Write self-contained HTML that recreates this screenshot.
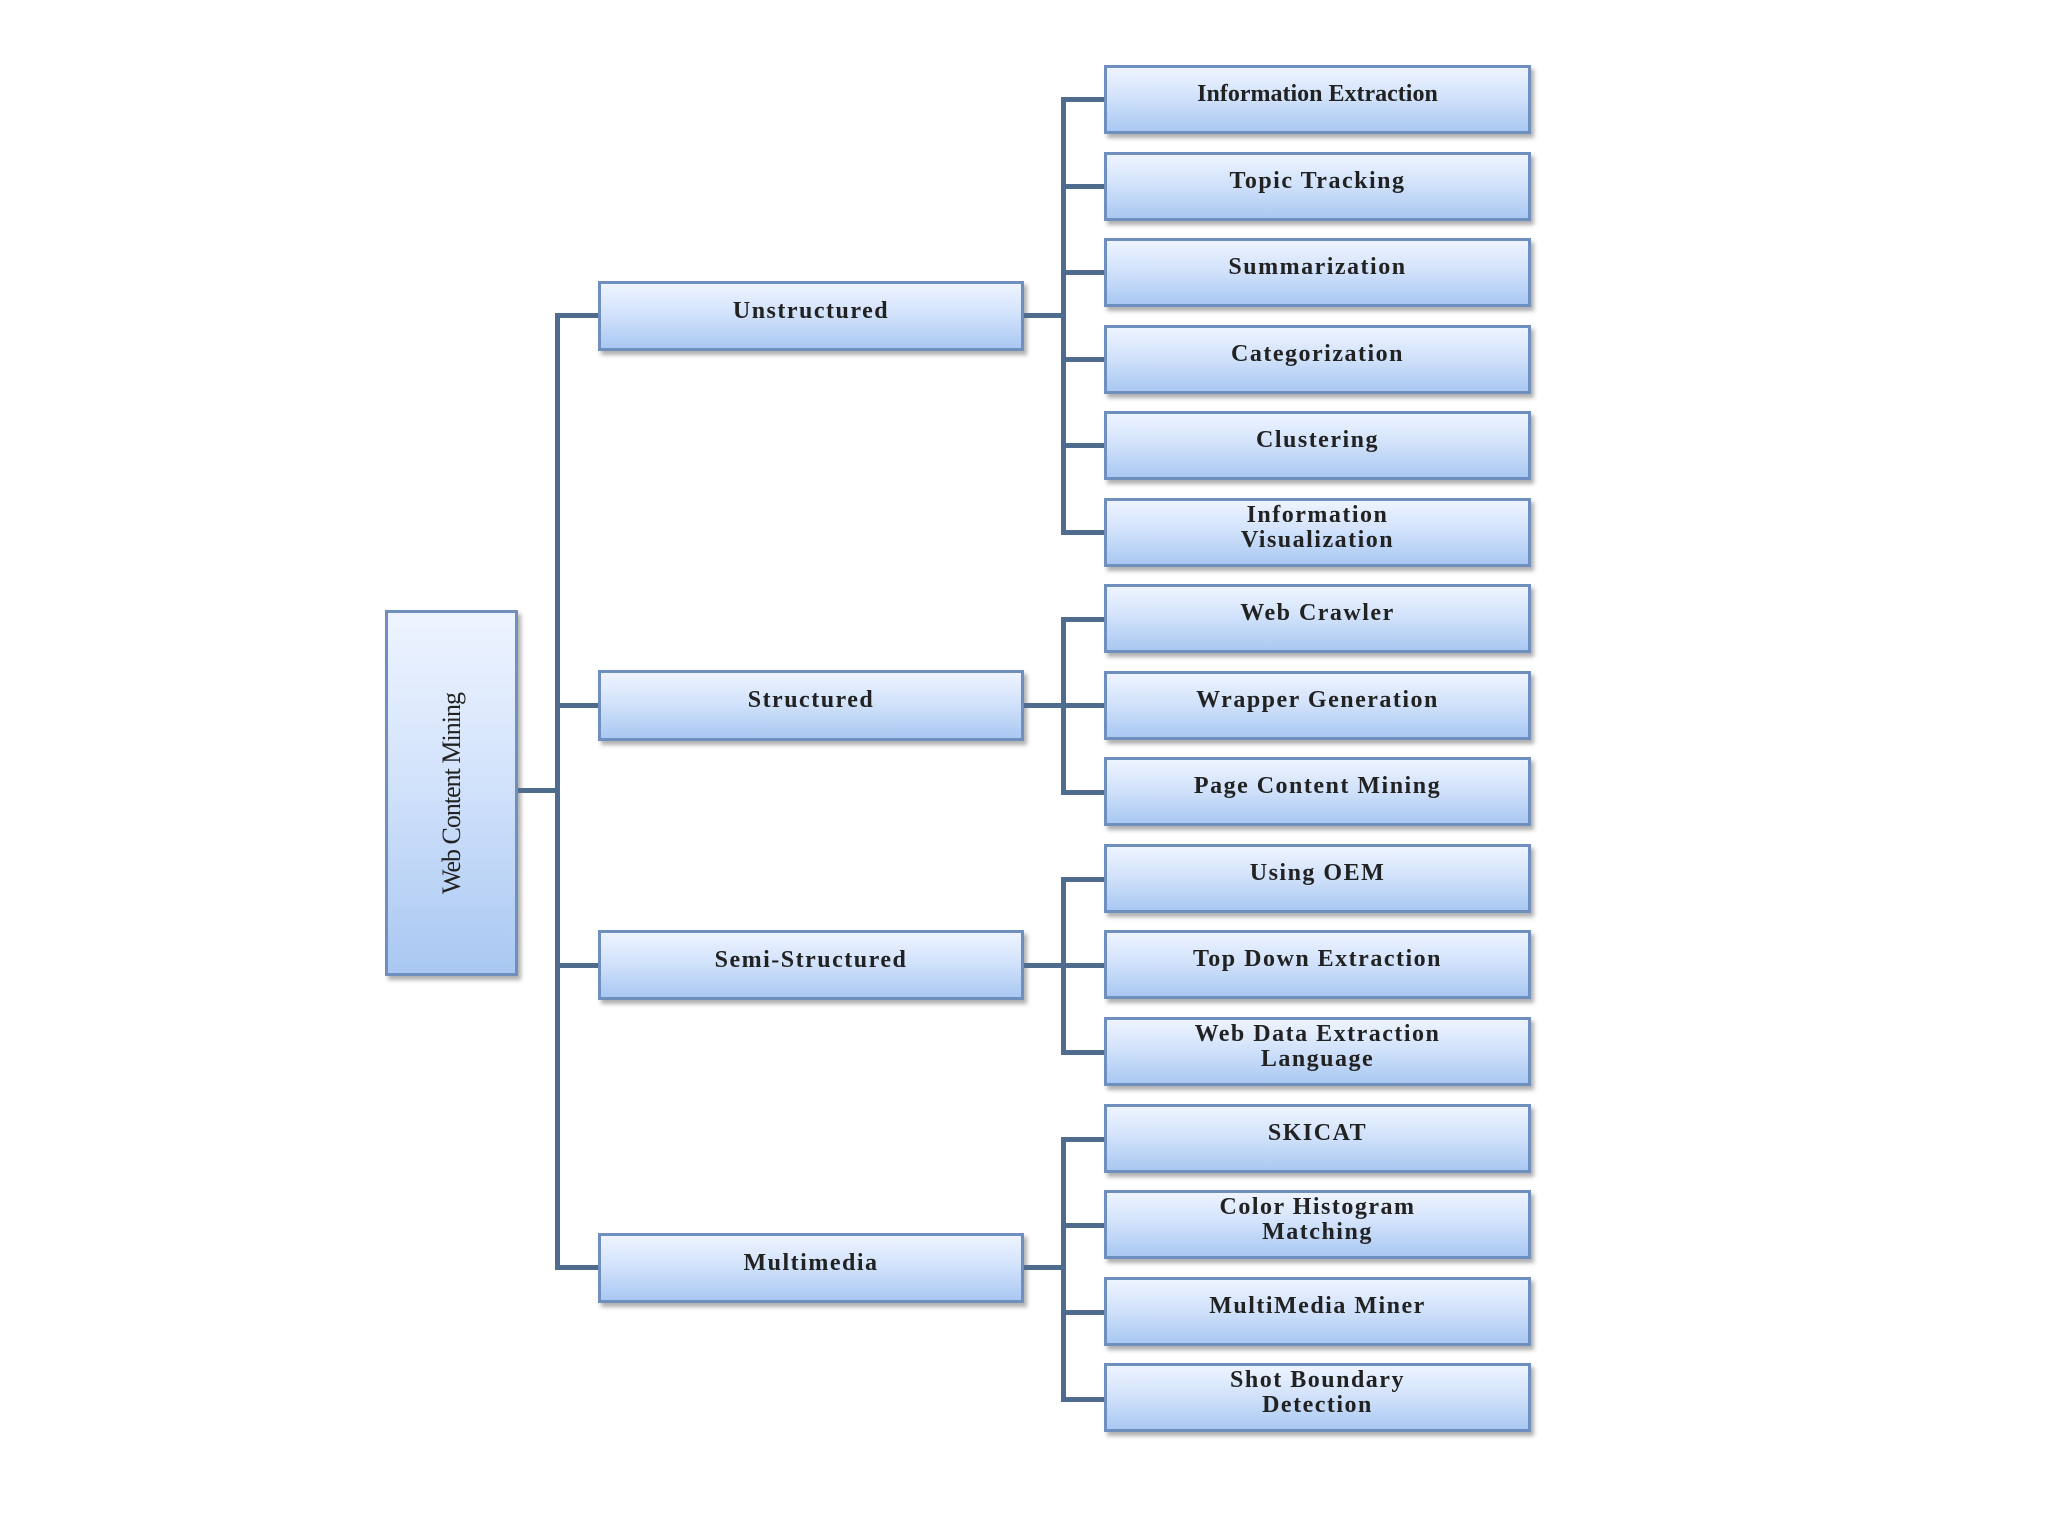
<!DOCTYPE html>
<html><head><meta charset="utf-8"><style>
html,body{margin:0;padding:0;background:#fff;}
#c{position:relative;width:2048px;height:1535px;overflow:hidden;font-family:"Liberation Serif",serif;}
.b{position:absolute;box-sizing:border-box;border:3px solid #6f8fbf;background:linear-gradient(#eef4ff 0%,#d3e3fb 45%,#a9c8f2 100%);box-shadow:3px 4px 4px rgba(80,80,80,0.45);display:flex;align-items:center;justify-content:center;text-align:center;font-weight:bold;font-size:24px;line-height:25px;color:#222;letter-spacing:1.5px;padding-bottom:10px;}
.l{position:absolute;background:#4f6b8e;}
</style></head><body><div id="c">
<!-- root -->
<div class="b" style="left:385px;top:610px;width:133px;height:366px;padding:0;font-weight:normal;"><div style="transform:rotate(-90deg);white-space:nowrap;font-size:26px;letter-spacing:-1px;transform-origin:center;">Web Content Mining</div></div>
<!-- trunk -->
<div class="l" style="left:518px;top:788px;width:42px;height:5px;"></div>
<div class="l" style="left:555px;top:313px;width:5px;height:957px;"></div>
<div class="l" style="left:555px;top:313px;width:45px;height:5px;"></div>
<div class="l" style="left:555px;top:703px;width:45px;height:5px;"></div>
<div class="l" style="left:555px;top:963px;width:45px;height:5px;"></div>
<div class="l" style="left:555px;top:1265px;width:45px;height:5px;"></div>
<!-- mid boxes -->
<div class="b" style="left:598px;top:281px;width:426px;height:70px;">Unstructured</div>
<div class="b" style="left:598px;top:670px;width:426px;height:71px;">Structured</div>
<div class="b" style="left:598px;top:930px;width:426px;height:70px;">Semi-Structured</div>
<div class="b" style="left:598px;top:1233px;width:426px;height:70px;">Multimedia</div>
<!-- branch lines -->
<div class="l" style="left:1024px;top:313px;width:42px;height:5px;"></div>
<div class="l" style="left:1061px;top:97px;width:5px;height:437px;"></div>
<div class="l" style="left:1024px;top:703px;width:42px;height:5px;"></div>
<div class="l" style="left:1061px;top:617px;width:5px;height:176px;"></div>
<div class="l" style="left:1024px;top:963px;width:42px;height:5px;"></div>
<div class="l" style="left:1061px;top:877px;width:5px;height:176px;"></div>
<div class="l" style="left:1024px;top:1265px;width:42px;height:5px;"></div>
<div class="l" style="left:1061px;top:1137px;width:5px;height:265px;"></div>
<!-- leaf stubs -->
<div class="l" style="left:1061px;top:97px;width:45px;height:5px;"></div>
<div class="l" style="left:1061px;top:184px;width:45px;height:5px;"></div>
<div class="l" style="left:1061px;top:270px;width:45px;height:5px;"></div>
<div class="l" style="left:1061px;top:357px;width:45px;height:5px;"></div>
<div class="l" style="left:1061px;top:443px;width:45px;height:5px;"></div>
<div class="l" style="left:1061px;top:530px;width:45px;height:5px;"></div>
<div class="l" style="left:1061px;top:617px;width:45px;height:5px;"></div>
<div class="l" style="left:1061px;top:703px;width:45px;height:5px;"></div>
<div class="l" style="left:1061px;top:790px;width:45px;height:5px;"></div>
<div class="l" style="left:1061px;top:877px;width:45px;height:5px;"></div>
<div class="l" style="left:1061px;top:963px;width:45px;height:5px;"></div>
<div class="l" style="left:1061px;top:1050px;width:45px;height:5px;"></div>
<div class="l" style="left:1061px;top:1137px;width:45px;height:5px;"></div>
<div class="l" style="left:1061px;top:1223px;width:45px;height:5px;"></div>
<div class="l" style="left:1061px;top:1310px;width:45px;height:5px;"></div>
<div class="l" style="left:1061px;top:1397px;width:45px;height:5px;"></div>
<!-- leaves -->
<div class="b" style="left:1104px;top:65px;width:427px;height:69px;letter-spacing:0">Information Extraction</div>
<div class="b" style="left:1104px;top:152px;width:427px;height:69px;">Topic Tracking</div>
<div class="b" style="left:1104px;top:238px;width:427px;height:69px;">Summarization</div>
<div class="b" style="left:1104px;top:325px;width:427px;height:69px;">Categorization</div>
<div class="b" style="left:1104px;top:411px;width:427px;height:69px;">Clustering</div>
<div class="b" style="left:1104px;top:498px;width:427px;height:69px;">Information<br>Visualization</div>
<div class="b" style="left:1104px;top:584px;width:427px;height:69px;">Web Crawler</div>
<div class="b" style="left:1104px;top:671px;width:427px;height:69px;">Wrapper Generation</div>
<div class="b" style="left:1104px;top:757px;width:427px;height:69px;">Page Content Mining</div>
<div class="b" style="left:1104px;top:844px;width:427px;height:69px;">Using OEM</div>
<div class="b" style="left:1104px;top:930px;width:427px;height:69px;">Top Down Extraction</div>
<div class="b" style="left:1104px;top:1017px;width:427px;height:69px;">Web Data Extraction<br>Language</div>
<div class="b" style="left:1104px;top:1104px;width:427px;height:69px;">SKICAT</div>
<div class="b" style="left:1104px;top:1190px;width:427px;height:69px;">Color Histogram<br>Matching</div>
<div class="b" style="left:1104px;top:1277px;width:427px;height:69px;">MultiMedia Miner</div>
<div class="b" style="left:1104px;top:1363px;width:427px;height:69px;">Shot Boundary<br>Detection</div>
</div></body></html>
